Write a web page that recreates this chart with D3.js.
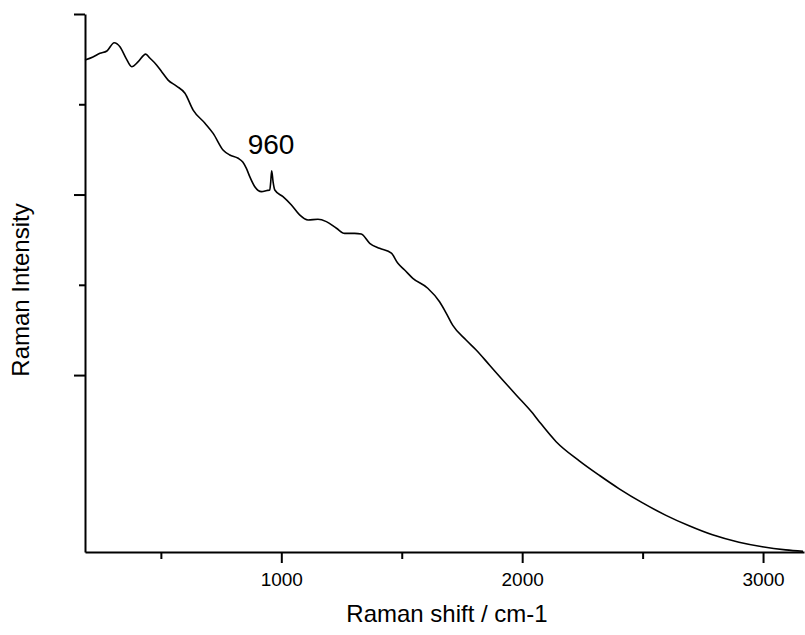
<!DOCTYPE html>
<html>
<head>
<meta charset="utf-8">
<script src="https://cdn.jsdelivr.net/npm/d3@7/dist/d3.min.js"></script>
<style>
  html, body { margin: 0; padding: 0; background: #fff; }
  svg { display: block; }
  text { font-family: "Liberation Sans", Arial, sans-serif; fill: #000; }
</style>
</head>
<body>
<svg id="chart" width="805" height="635"></svg>
<script>
// Raman shift (cm-1)
const shift = [185, 218, 247, 276, 306, 330, 355, 379, 406, 437, 454, 482, 504, 530, 565, 600, 634, 683, 717, 758,
  786, 821, 840, 855, 869, 890, 918, 940, 952, 956, 960, 966, 973, 1007, 1042, 1076, 1111, 1152, 1187, 1229,
  1263, 1304, 1332, 1367, 1408, 1457, 1484, 1512, 1546, 1608, 1657, 1685, 1712, 1767, 1809, 1864, 1919, 1975, 2044, 2071,
  2141, 2237, 2320, 2403, 2500, 2597, 2693, 2790, 2900, 2997, 3094, 3166];
// Raman intensity (arbitrary units)
const intensity = [2745, 2762, 2782, 2795, 2841, 2819, 2756, 2708, 2736, 2778, 2756, 2718, 2679, 2634, 2601, 2561, 2468, 2395, 2339, 2247,
  2219, 2201, 2180, 2145, 2099, 2043, 2016, 2022, 2025, 2069, 2132, 2069, 2025, 1988, 1942, 1887, 1859, 1863, 1850, 1813,
  1785, 1785, 1781, 1730, 1702, 1675, 1619, 1582, 1536, 1481, 1406, 1342, 1275, 1194, 1139, 1056, 973, 890, 788, 742,
  631, 525, 445, 370, 292, 223, 165, 115, 74, 49, 32, 24];
const xMajorTicks = [1000, 2000, 3000];
const xMinorTicks = [500, 1500, 2500];
const yMajorTicks = [1000, 2000, 3000];
const yMinorTicks = [1500, 2500];
const xLabel = "Raman shift / cm-1";
const yLabel = "Raman Intensity";
const peakLabel = "960";
const xDomain = [185, 3170];
const yDomain = [20, 3000];

const svg = d3.select("#chart");
const x = d3.scaleLinear().domain(xDomain).range([85, 804]);
const y = d3.scaleLinear().domain(yDomain).range([552, 14]);

const data = shift.map((s, i) => ({ s, v: intensity[i] }));

// line
svg.append("path")
  .datum(data)
  .attr("fill", "none")
  .attr("stroke", "#000")
  .attr("stroke-width", 1.6)
  .attr("stroke-linejoin", "round")
  .attr("d", d3.line().curve(d3.curveMonotoneX).x(d => x(d.s)).y(d => y(d.v)));

// x axis
const gx = svg.append("g").attr("transform", "translate(0,552)");
gx.call(d3.axisBottom(x).tickValues(xMajorTicks).tickSize(11).tickSizeOuter(0).tickFormat(d3.format("d")));
gx.append("g").call(d3.axisBottom(x).tickValues(xMinorTicks).tickSize(7).tickSizeOuter(0).tickFormat(""))
  .select(".domain").remove();
gx.selectAll(".domain").attr("stroke", "#000").attr("stroke-width", 2);
gx.selectAll(".tick line").attr("stroke", "#000").attr("stroke-width", 2);
gx.selectAll(".tick text").attr("font-size", 19).attr("font-family", "Liberation Sans, Arial, sans-serif")
  .attr("fill", "#000").attr("dy", 0).attr("y", 34);

// y axis
const gy = svg.append("g").attr("transform", "translate(85,0)");
gy.call(d3.axisLeft(y).tickValues(yMajorTicks).tickSize(11).tickSizeOuter(0).tickFormat(""));
gy.append("g").call(d3.axisLeft(y).tickValues(yMinorTicks).tickSize(6).tickSizeOuter(0).tickFormat(""))
  .select(".domain").remove();
gy.selectAll(".domain").attr("stroke", "#000").attr("stroke-width", 2);
gy.selectAll(".tick line").attr("stroke", "#000").attr("stroke-width", 2);

// axis titles
svg.append("text")
  .attr("x", 447).attr("y", 622)
  .attr("text-anchor", "middle")
  .attr("font-size", 24)
  .text(xLabel);

svg.append("text")
  .attr("transform", "translate(29,290) rotate(-90)")
  .attr("text-anchor", "middle")
  .attr("font-size", 24)
  .text(yLabel);

// peak annotation
const peakIdx = shift.indexOf(960);
svg.append("text")
  .attr("x", x(960) - 24)
  .attr("y", y(intensity[peakIdx]) - 17)
  .attr("font-size", 28)
  .text(peakLabel);
</script>
</body>
</html>
